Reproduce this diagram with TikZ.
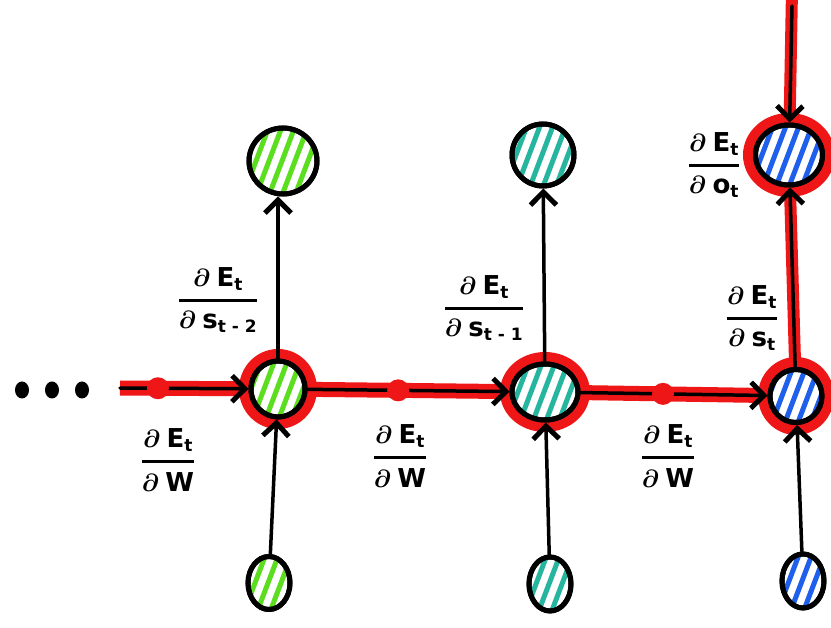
\documentclass[tikz,border=0pt]{standalone}
\usepackage{fontspec}
\setsansfont{DejaVu Sans}
\usetikzlibrary{arrows.meta,shapes.geometric,backgrounds,calc}
\definecolor{hl}{RGB}{238,22,22}
\definecolor{gr}{RGB}{92,222,32}
\definecolor{tl}{RGB}{38,182,160}
\definecolor{bl}{RGB}{30,95,235}
\newcommand\sfb[1]{\hbox{\sffamily\bfseries #1}}
\newcommand\sfs[1]{\hbox{\sffamily\bfseries\fontsize{17}{18}\selectfont #1}}
\newcommand\gradlabel[1]{$\displaystyle{\partial\:\sfb{E}_{\sfs{t}}\above3pt\partial\:#1}$}
\tikzset{
  unit/.style={ellipse, draw=black, line width=5pt, fill=white, inner sep=0pt,
    postaction={draw=black, line width=5pt}},
  stripes/.style={path picture={
     \foreach \k in {-7,...,7}
       \draw[#1, line width=5pt] ([shift={(\k*13pt-20pt,-50pt)}]path picture bounding box.center) -- ++(38pt,100pt);
  }},
  conn/.style={draw=black, line width=3.5pt, line cap=round, -{Straight Barb[length=13pt,width=26pt,line width=5pt]}},
  redline/.style={draw=hl, line width=15pt},
  reddot/.style={fill=hl},
  lbl/.style={font=\fontsize{26}{30}\selectfont\boldmath, inner sep=0pt},
  dotk/.style={fill=black}
}
\begin{document}
\begin{tikzpicture}[x=1pt,y=-1pt]
\useasboundingbox (0,0) rectangle (831,628);
% nodes
\node[unit, stripes=gr, minimum width=54pt, minimum height=56pt] (m1) at (278,389) {};
\node[unit, stripes=tl, minimum width=66pt, minimum height=56pt] (m2) at (545,392) {};
\node[unit, stripes=bl, minimum width=52pt, minimum height=53pt] (m3) at (796,396) {};
\node[unit, stripes=gr, minimum width=68pt, minimum height=66pt] (t1) at (283,161) {};
\node[unit, stripes=tl, minimum width=62pt, minimum height=62pt] (t2) at (543,155) {};
\node[unit, stripes=bl, minimum width=67pt, minimum height=60pt] (t3) at (789,155) {};
\node[unit, stripes=gr, minimum width=42pt, minimum height=53pt] (b1) at (269,583) {};
\node[unit, stripes=tl, minimum width=42pt, minimum height=54pt] (b2) at (550,584) {};
\node[unit, stripes=bl, minimum width=42pt, minimum height=54pt] (b3) at (803,581) {};
\coordinate (start) at (120,388);
\coordinate (topin) at (792,6);
\coordinate (topedge) at (792,-10);
% dots
\fill[dotk] (22,390) ellipse (7pt and 8.5pt);
\fill[dotk] (52,390) ellipse (7pt and 8.5pt);
\fill[dotk] (82,390) ellipse (7pt and 8.5pt);
% red highlight
\begin{scope}[on background layer]
  \draw[redline] (start) -- (m1.center) -- (m2.center) -- (m3.center);
  \draw[draw=hl, line width=12pt] (topedge) -- (t3.center) -- (m3.center);
  \fill[hl] (m1.center) ellipse (39pt and 40pt);
  \fill[hl] (m2.center) ellipse (45pt and 40pt);
  \fill[hl] (m3.center) ellipse (38pt and 39pt);
  \fill[hl] (t3.center) ellipse (46pt and 42pt);
\end{scope}
% connectors
\draw[conn] (start) -- (m1);
\draw[conn] (m1) -- (m2);
\draw[conn] (m2) -- (m3);
\draw[conn] (m1.north) -- (m1.north |- t1.south);
\draw[conn] (m2) -- (t2);
\draw[conn] (m3) -- (t3);
\draw[conn] (b1) -- (m1);
\draw[conn] (b2) -- (m2);
\draw[conn] (b3) -- (m3);
\draw[conn] (topin) -- (t3);
% red dots
\fill[reddot] ($(start)!0.24!(m1)$) circle (11pt);
\fill[reddot] ($(m1)!0.45!(m2)$) circle (11pt);
\fill[reddot] ($(m2)!0.47!(m3)$) circle (11pt);
% labels
\node[lbl] (lw1) at (168,460) {\gradlabel{\sfb{W}}};
\node[lbl] (lw2) at (400,456) {\gradlabel{\sfb{W}}};
\node[lbl] (lw3) at (668,456) {\gradlabel{\sfb{W}}};
\node[lbl] (ls1) at (218,300) {\gradlabel{\sfb{s}_{\sfs{t - 2}}}};
\node[lbl] (ls2) at (484,308) {\gradlabel{\sfb{s}_{\sfs{t - 1}}}};
\node[lbl] (ls3) at (752,318) {\gradlabel{\sfb{s}_{\sfs{t}}}};
\node[lbl] (lo) at (714,165) {\gradlabel{\sfb{o}_{\sfs{t}}}};
\end{tikzpicture}
\end{document}
